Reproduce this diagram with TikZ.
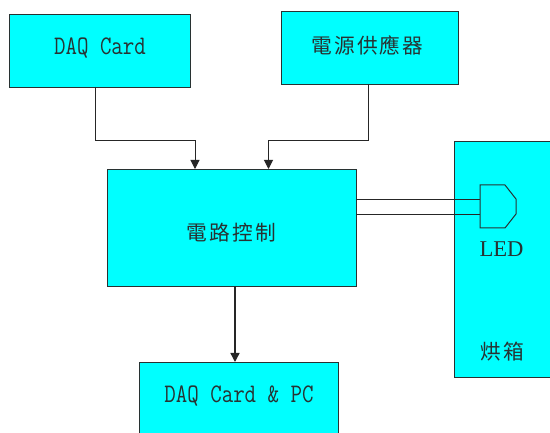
\documentclass[tikz,border=0pt]{standalone}
\usepackage{fontspec}
\setmainfont{Liberation Serif}
\newfontfamily\cjk[LetterSpace=10]{Noto Sans CJK TC}
\usetikzlibrary{arrows.meta}
\definecolor{boxcyan}{RGB}{0,255,255}
\definecolor{inkc}{RGB}{40,50,50}
\tikzset{
  panel/.style={draw=inkc,line width=1pt,fill=boxcyan,inner sep=0pt,anchor=north west},
  cjklabel/.style={text=inkc,font=\cjk\fontsize{20.7}{22}\selectfont,inner sep=0pt},
  latlabel/.style={text=inkc,font=\ttfamily\fontsize{22.3}{24}\selectfont,inner sep=0pt,yscale=1.2,transform shape},
  wire/.style={draw=black!85,line width=1pt},
  flow/.style={wire,-{Triangle[length=9pt,width=9pt]}}
}
\begin{document}
\begin{tikzpicture}[x=1pt,y=-1pt]
\useasboundingbox (0,0) rectangle (550,433);
\clip (0,0) rectangle (550,433);
\fill[white] (0,0) rectangle (550,433);
\node[panel,minimum width=181pt,minimum height=73pt] (daq) at (9,14) {};
\node[panel,minimum width=177pt,minimum height=73pt] (power) at (281,11) {};
\node[panel,minimum width=249pt,minimum height=117pt] (ctrl) at (107,169) {};
\node[panel,minimum width=199pt,minimum height=90pt] (pc) at (139,362) {};
\node[panel,minimum width=110pt,minimum height=236pt] (oven) at (454,141) {};
\node[latlabel] (t1) at (100,48) {DAQ Card};
\node[cjklabel] (t2) at (367.5,45.5) {電源供應器};
\node[cjklabel] (t3) at (231.5,233) {電路控制};
\node[latlabel] (t4) at (239,395.5) {DAQ Card \& PC};
\node[text=inkc,font=\fontsize{22.6}{24}\selectfont,inner sep=0pt] (t5) at (501.5,249) {LED};
\node[cjklabel] (t6) at (502,352) {烘箱};
\coordinate (a1) at (95,87);
\coordinate (a2) at (195,169);
\coordinate (b1) at (368,84);
\coordinate (b2) at (268.5,169);
\coordinate (c1) at (235,286);
\coordinate (c2) at (235,362);
\draw[flow] (a1) |- (195,141) -- (a2);
\draw[flow] (b1) |- (268.5,141) -- (b2);
\draw[flow,line width=1.4pt] (c1) -- (c2);
\coordinate (l1) at (356,199.5);
\coordinate (l2) at (356,215);
\coordinate (m1) at (480,199.5);
\coordinate (m2) at (480,215);
\draw[wire] (l1) -- (m1);
\draw[wire] (l2) -- (m2);
\draw[draw=inkc,line width=1pt,fill=boxcyan] (480,185) -- (505,185) -- (516,199) -- (516,214) -- (505,228) -- (480,228) -- cycle;
\end{tikzpicture}
\end{document}
